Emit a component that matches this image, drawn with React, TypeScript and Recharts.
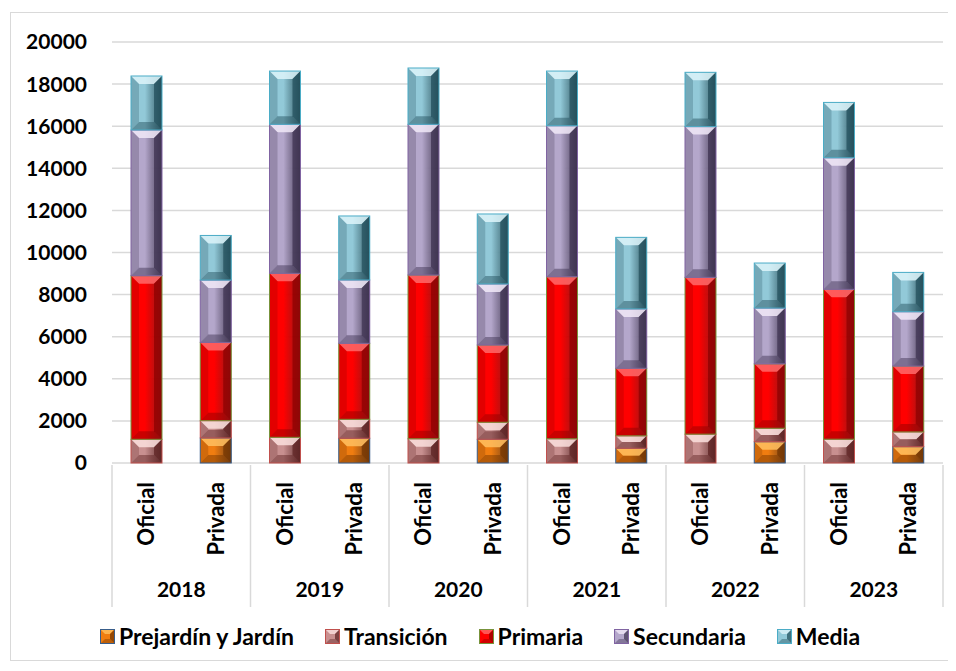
import React from 'react';
import { BarChart, Bar, XAxis, YAxis, CartesianGrid, Legend } from 'recharts';

const years = ['2018', '2019', '2020', '2021', '2022', '2023'];
const types = ['Oficial', 'Privada'];

// one value per bar, in order 2018 Oficial, 2018 Privada, 2019 Oficial, ...
const prejardin = [0, 1190, 0, 1175, 0, 1125, 0, 700, 0, 1010, 0, 775];
const transicion = [1125, 820, 1220, 900, 1150, 810, 1150, 590, 1370, 640, 1130, 700];
const primaria = [7773, 3720, 7790, 3610, 7780, 3670, 7700, 3210, 7450, 3060, 7120, 3130];
const secundaria = [6922, 2960, 7080, 3010, 7160, 2900, 7170, 2820, 7160, 2650, 6250, 2580];
const media = [2565, 2120, 2530, 3040, 2675, 3325, 2600, 3400, 2580, 2140, 2630, 1870];

const yTicks = [0, 2000, 4000, 6000, 8000, 10000, 12000, 14000, 16000, 18000, 20000];

const FONT = 'Lato, "Open Sans", sans-serif';

const series = [
  { key: 'prejardin', name: 'Prejardín y Jardín', base: '#F07D10', light: '#FFC060', dark: '#6E3200', stroke: '#385D8A' },
  { key: 'transicion', name: 'Transición', base: '#C89090', light: '#FBE0DE', dark: '#5A2020', stroke: '#C0504D' },
  { key: 'primaria', name: 'Primaria', base: '#FF0000', light: '#FF6A6A', dark: '#8A0000', stroke: '#77933C' },
  { key: 'secundaria', name: 'Secundaria', base: '#B4A7CB', light: '#F1E9F8', dark: '#3A2F4D', stroke: '#8064A2' },
  { key: 'media', name: 'Media', base: '#92C9D8', light: '#DDF4FA', dark: '#1F4C58', stroke: '#4BACC6' },
];

const data = years.flatMap((year, yi) =>
  types.map((tipo, ti) => {
    const i = yi * 2 + ti;
    return {
      year,
      tipo,
      prejardin: prejardin[i],
      transicion: transicion[i],
      primaria: primaria[i],
      secundaria: secundaria[i],
      media: media[i],
    };
  })
);

const CHART_W = 938;
const CHART_H = 647;
const MARGIN = { top: 29, right: 6, left: 6, bottom: 11 };
const Y_W = 95;
const X_H = 142;
const BAND = (CHART_W - MARGIN.left - MARGIN.right - Y_W) / data.length;

const BevelBar = (props: any) => {
  const { x, y, width, height, s } = props;
  if (!height || height <= 0 || !width) return null;
  const b = Math.min(8, height / 2, width / 2);
  const gid = `grad-${s.key}`;
  return (
    <g>
      <rect x={x} y={y} width={width} height={height} fill={`url(#${gid})`} />
      <polygon
        points={`${x},${y} ${x + width},${y} ${x + width - b},${y + b} ${x + b},${y + b}`}
        fill={s.light}
        opacity={0.85}
      />
      <polygon
        points={`${x},${y + height} ${x + width},${y + height} ${x + width - b},${y + height - b} ${x + b},${y + height - b}`}
        fill={s.dark}
        opacity={0.45}
      />
      <polygon
        points={`${x},${y} ${x + b},${y + b} ${x + b},${y + height - b} ${x},${y + height}`}
        fill={s.dark}
        opacity={0.25}
      />
      <polygon
        points={`${x + width},${y} ${x + width - b},${y + b} ${x + width - b},${y + height - b} ${x + width},${y + height}`}
        fill={s.dark}
        opacity={0.7}
      />
      <rect x={x} y={y} width={width} height={height} fill="none" stroke={s.stroke} strokeWidth={1} />
    </g>
  );
};

const CategoryTick = (props: any) => {
  const { x, y, payload, index } = props;
  const row = data[index];
  return (
    <g>
      <text
        transform={`translate(${x},${y + 17}) rotate(-90)`}
        textAnchor="end"
        dy="0.35em"
        fontFamily={FONT}
        fontWeight={700}
        fontSize={22}
        fill="#000"
      >
        {payload.value}
      </text>
      {index % 2 === 0 && (
        <>
          <line x1={x - BAND / 2} y1={y} x2={x - BAND / 2} y2={y + X_H} stroke="#d9d9d9" strokeWidth={1.5} />
          <text
            x={x + BAND / 2}
            y={y + 132}
            textAnchor="middle"
            fontFamily={FONT}
            fontWeight={700}
            fontSize={21}
            fill="#000"
          >
            {row ? row.year : ''}
          </text>
        </>
      )}
      {index === data.length - 1 && (
        <line x1={x + BAND / 2} y1={y} x2={x + BAND / 2} y2={y + X_H} stroke="#d9d9d9" strokeWidth={1.5} />
      )}
    </g>
  );
};

const LegendIcon = ({ s }: any) => (
  <svg width={15} height={15} style={{ display: 'block' }}>
    <rect x={0} y={0} width={15} height={15} fill={s.base} />
    <polygon points="0,0 15,0 10,5 5,5" fill={s.light} opacity={0.8} />
    <polygon points="15,0 15,15 10,10 10,5" fill={s.dark} opacity={0.7} />
    <polygon points="0,15 15,15 10,10 5,10" fill={s.dark} opacity={0.4} />
    <rect x={0.5} y={0.5} width={14} height={14} fill="none" stroke={s.stroke} />
  </svg>
);

const LegendContent = () => (
  <div
    style={{
      display: 'flex',
      justifyContent: 'center',
      alignItems: 'center',
      gap: 31,
      paddingTop: 18,
      fontFamily: FONT,
      fontWeight: 700,
      fontSize: 23,
      color: '#000',
      height: 26,
    }}
  >
    {series.map((s) => (
      <div key={s.key} style={{ display: 'flex', alignItems: 'center', gap: 4 }}>
        <LegendIcon s={s} />
        <span>{s.name}</span>
      </div>
    ))}
  </div>
);

export default function App() {
  return (
    <div
      style={{
        marginLeft: 2,
        marginTop: 4,
        width: CHART_W,
        height: CHART_H,
        border: '1px solid #d9d9d9',
        background: '#fff',
      }}
    >
      <BarChart width={CHART_W} height={CHART_H} data={data} margin={MARGIN}>
        <defs>
          {series.map((s) => (
            <linearGradient key={s.key} id={`grad-${s.key}`} x1="0" y1="0" x2="1" y2="0">
              <stop offset="0%" stopColor={s.base} />
              <stop offset="45%" stopColor={s.base} />
              <stop offset="100%" stopColor={s.dark} stopOpacity={0.9} />
            </linearGradient>
          ))}
        </defs>
        <CartesianGrid vertical={false} stroke="#d9d9d9" strokeWidth={1.5} />
        <XAxis
          dataKey="tipo"
          interval={0}
          axisLine={false}
          tickLine={false}
          tickSize={0}
          height={X_H}
          tick={<CategoryTick />}
        />
        <YAxis
          domain={[0, 20000]}
          ticks={yTicks}
          interval={0}
          width={Y_W}
          axisLine={false}
          tickLine={false}
          tickSize={0}
          tickMargin={25}
          tick={{ fontFamily: FONT, fontWeight: 700, fontSize: 21, fill: '#000' }}
        />
        <Legend verticalAlign="bottom" content={<LegendContent />} />
        {series.map((s) => (
          <Bar
            key={s.key}
            dataKey={s.key}
            name={s.name}
            stackId="a"
            barSize={31}
            fill={s.base}
            isAnimationActive={false}
            shape={(p: any) => <BevelBar {...p} s={s} />}
          />
        ))}
      </BarChart>
    </div>
  );
}
